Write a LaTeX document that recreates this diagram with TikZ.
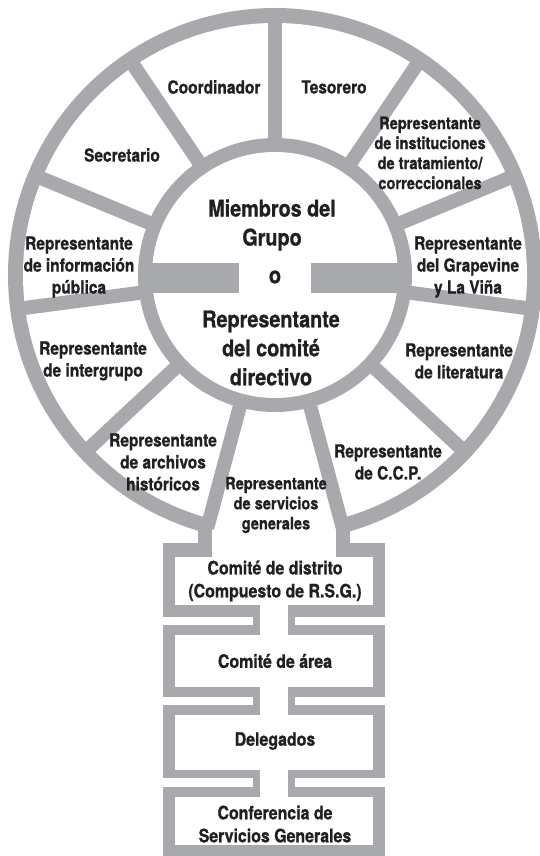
\documentclass[tikz,border=0pt]{standalone}
\usepackage{fontspec}
\newfontfamily\cnfont{TeX Gyre Heros}[FakeStretch=0.86, BoldFeatures={FakeBold=0.9}]
\usetikzlibrary{calc}
\definecolor{ringgray}{RGB}{167,169,172}
\definecolor{inkblack}{RGB}{35,31,32}

\begin{document}
\begin{tikzpicture}[x=1pt,y=-1pt]
		\tikzstyle {band} = [fill=ringgray]
		\tikzstyle {hole} = [fill=white]
		\tikzstyle {spoke} = [draw=ringgray, line width=14pt]
		\tikzstyle {segtext} = [align=center, inner sep=0pt, text=inkblack, font=\cnfont\bfseries\fontsize{18}{22}\selectfont]
		\tikzstyle {insttext} = [font=\cnfont\bfseries\fontsize{17}{20}\selectfont]
		\tikzstyle {centertext} = [segtext, font=\cnfont\bfseries\fontsize{23}{29}\selectfont]
		\tikzstyle {boxtext} = [segtext, font=\cnfont\bfseries\fontsize{18.5}{23}\selectfont]

		\useasboundingbox (0,0) rectangle (540,856);
		\coordinate (c) at (275,275);

		% outer wheel and stem
		\fill[band] (c) circle (267);
		\fill[band] (198,500) rectangle (350,557);
		\foreach \t/\b in {543/617, 625/697, 705/778, 787/856}
			\fill[band] (163,\t) rectangle (385,\b);
		\foreach \t/\b in {610/632, 690/712, 770/792}
			\fill[band] (253,\t) rectangle (295,\b);

		\fill[hole] (c) circle (252);
		\fill[hole] (212,500) rectangle (336,557);
		\foreach \t/\b in {557/605, 635/687, 715/770, 797/845}
			\fill[hole] (175,\t) rectangle (373,\b);
		\foreach \t/\b in {600/640, 680/720, 765/802}
			\fill[hole] (260,\t) rectangle (288,\b);

		% spokes
		\foreach \a in {0,34,67.5,97.5,133,165} {
			\draw[spoke] ($(c)+(-90-\a:128)$) -- ($(c)+(-90-\a:262)$);
			\draw[spoke] ($(c)+(-90+\a:128)$) -- ($(c)+(-90+\a:262)$);
		}

		% hub
		\fill[band] (c) circle (137);
		\fill[hole] (c) circle (123);
		\fill[band] (140,263) rectangle (239,293);
		\fill[band] (311,263) rectangle (410,293);

		\node[segtext] (coord) at (214,87) {Coordinador};
		\node[segtext] (tesor) at (334,87) {Tesorero};
		\node[segtext] (secre) at (122,155) {Secretario};
		\node[segtext,insttext] (inst) at (430,153) {Representante\\de instituciones\\de tratamiento/\\correccionales};
		\node[segtext] (infpub) at (79,267) {Representante\\de información\\pública};
		\node[segtext] (grape) at (468,267) {Representante\\del Grapevine\\y La Viña};
		\node[segtext] (inter) at (93,361) {Representante\\de intergrupo};
		\node[segtext] (liter) at (459,361) {Representante\\de literatura};
		\node[segtext] (archi) at (163,462) {Representante\\de archivos\\históricos};
		\node[segtext] (ccp) at (388,462) {Representante\\de C.C.P.};
		\node[segtext,insttext] (rsg) at (276,505) {Representante\\de servicios\\generales};

		\node[centertext] (miemb) at (272,225) {Miembros del\\Grupo};
		\node[centertext] (ofor) at (275,277) {o};
		\node[centertext] (rcd) at (271,348) {Representante\\del comité\\directivo};

		\node[boxtext] (distr) at (275,581) {Comité de distrito\\(Compuesto de R.S.G.)};
		\node[boxtext] (area) at (275,661) {Comité de área};
		\node[boxtext] (deleg) at (275,741) {Delegados};
		\node[boxtext] (confe) at (275,824) {Conferencia de\\Servicios Generales};
\end{tikzpicture}
\end{document}
